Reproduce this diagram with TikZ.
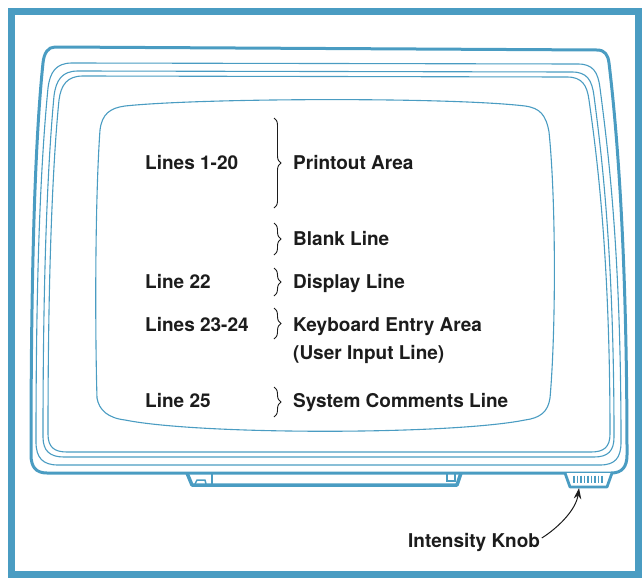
\documentclass[tikz,border=0pt]{standalone}
\usepackage{fontspec}
\setmainfont{TeX Gyre Heros}
\usetikzlibrary{decorations.pathreplacing,arrows.meta}
\definecolor{hpblue}{RGB}{74,156,194}
\definecolor{ink}{RGB}{28,28,28}
\begin{document}
\begin{tikzpicture}[x=1pt,y=-1pt,
  lbl/.style={anchor=base west, inner sep=0pt, font=\fontsize{19}{22}\selectfont\bfseries, text=ink},
  bezel/.style={draw=hpblue, line width=3pt, line join=round},
  thinline/.style={draw=hpblue, line width=1.1pt},
  brc/.style={draw=ink, line width=0.9pt, decorate, decoration={brace, amplitude=7pt}},
  pointer/.style={draw=ink, line width=1pt, -{Stealth[length=11pt,width=7.5pt]}}]
\useasboundingbox (0,0) rectangle (642,581);
% outer border
\draw[hpblue, line width=7pt] (11.5,11.5) rectangle (638.5,574.5);
% bezel
\draw[bezel] (55,47) -- (597,50) .. controls (605,50) and (608,55) .. (609,63)
  .. controls (617,130) and (627,250) .. (627,455)
  .. controls (627,467) and (622,473) .. (611,473) -- (47,473)
  .. controls (36,473) and (31,467) .. (31,455)
  .. controls (31,250) and (36,130) .. (43,63)
  .. controls (44,53) and (48,47) .. (55,47) -- cycle;
% thin contour lines
\draw[thinline] (72,63) -- (578,64) .. controls (593,64) and (598,72) .. (600,88)
  .. controls (608,150) and (621,250) .. (621,442)
  .. controls (621,458) and (615,465) .. (600,465) -- (58,465)
  .. controls (43,465) and (36,458) .. (36,442)
  .. controls (36,250) and (42,150) .. (48,88)
  .. controls (50,72) and (56,63) .. (72,63) -- cycle;
\draw[thinline] (78,71) -- (572,72) .. controls (587,72) and (592,80) .. (594,96)
  .. controls (601,150) and (614,250) .. (614,437)
  .. controls (614,451) and (608,457) .. (594,457) -- (64,457)
  .. controls (50,457) and (43,451) .. (43,437)
  .. controls (43,250) and (49,150) .. (54,96)
  .. controls (56,80) and (62,71) .. (78,71) -- cycle;
\draw[thinline] (83,76) -- (567,77) .. controls (582,77) and (587,85) .. (589,100)
  .. controls (596,150) and (610,250) .. (610,434)
  .. controls (610,447) and (604,452) .. (591,452) -- (67,452)
  .. controls (54,452) and (48,447) .. (48,434)
  .. controls (48,250) and (54,150) .. (59,100)
  .. controls (61,85) and (67,76) .. (83,76) -- cycle;
% screen
\draw[thinline] (125,106) .. controls (200,98) and (450,97) .. (525,106)
  .. controls (540,108) and (546,115) .. (549,132)
  .. controls (556,200) and (556,330) .. (550,398)
  .. controls (548,412) and (540,418) .. (525,420)
  .. controls (450,435) and (200,435) .. (125,420)
  .. controls (108,418) and (99,410) .. (97,398)
  .. controls (95,330) and (95,200) .. (100,130)
  .. controls (102,114) and (110,108) .. (125,106) -- cycle;
% stand
\draw[hpblue, line width=3.5pt, line join=round] (187,473) -- (192,485) -- (457,485) -- (461,473);
\draw[hpblue, line width=1.2pt] (212,473) -- (212,485);
\draw[hpblue, line width=1.5pt, line join=round] (195,484) -- (197,480) -- (205,480) -- (206,484);
\draw[hpblue, line width=1.2pt] (447,473) rectangle (455,481);
% knob
\draw[hpblue, line width=2.8pt, line join=round, fill=white] (565,473) -- (570,487) -- (607,487) -- (612,473);
\foreach \x in {574,577.5,...,605} \draw[hpblue, line width=1.6pt] (\x,475.5) -- (\x,483);
\coordinate (knobtip) at (579,488);
% labels
\node[lbl] (l120) at (145,169) {Lines 1-20};
\node[lbl] (l22) at (145,288) {Line 22};
\node[lbl] (l2324) at (145,331) {Lines 23-24};
\node[lbl] (l25) at (145,407) {Line 25};
\node[lbl] (printout) at (293,169) {Printout Area};
\node[lbl] (blank) at (293,245) {Blank Line};
\node[lbl] (display) at (293,288) {Display Line};
\node[lbl] (keyboard) at (293,331) {Keyboard Entry Area};
\node[lbl] (userinput) at (293,359) {(User Input Line)};
\node[lbl] (system) at (293,407) {System Comments Line};
% braces
\draw[brc] (274,118) -- (274,208);
\draw[brc] (274,223) -- (274,255);
\draw[brc] (274,268) -- (274,296);
\draw[brc] (274,308) -- (274,339);
\draw[brc] (274,387) -- (274,417);
% intensity knob label
\node[lbl] (knoblbl) at (408,547) {Intensity Knob};
\draw[pointer] ([xshift=1.5pt,yshift=9pt]knoblbl.base east) .. controls +(16,-10) and +(-3,22) .. (knobtip);
\end{tikzpicture}
\end{document}
